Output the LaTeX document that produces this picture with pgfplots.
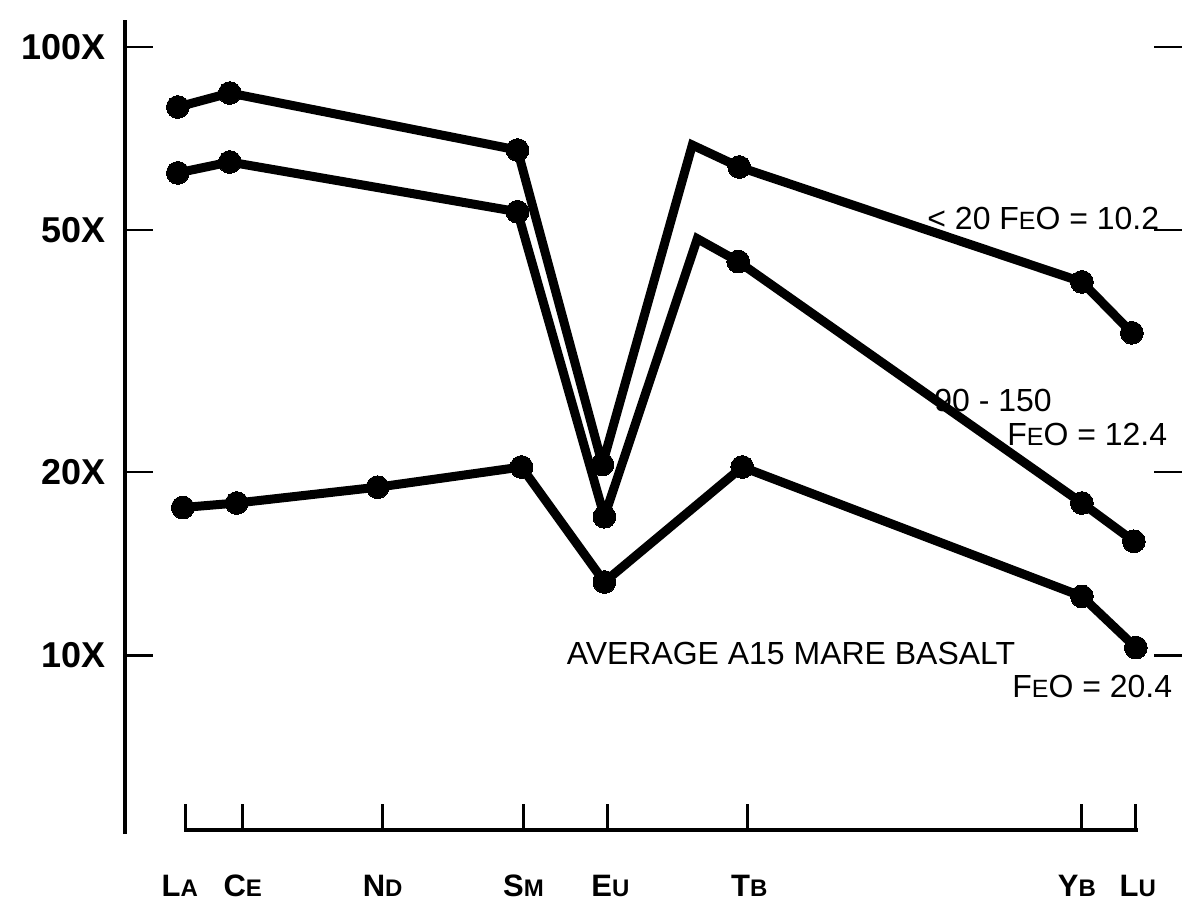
\documentclass[border=0pt]{standalone}
\usepackage{fontspec}
\setmainfont{Liberation Sans}
\usepackage{pgfplots}
\usepackage{pgfplotstable}
\pgfplotsset{compat=1.18}

% x = position along the REE axis (drawing units), y = chondrite-normalised abundance
\pgfplotstableread{
x y
178 79.7
230 84.0
518 67.7
603 20.6
693 69.0
740 63.5
1083 41.1
1133 33.9
}\lowTi

\pgfplotstableread{
x y
178 62.1
230 64.7
518 53.6
605 16.9
698 48.4
739 44.4
1083 17.8
1135 15.4
}\midTi

\pgfplotstableread{
x y
183 17.5
237 17.8
378 18.9
522 20.4
605 13.2
743 20.4
1083 12.5
1137 10.3
}\avgbasalt

\newcommand{\sm}[1]{{\fontsize{12}{14}\selectfont #1}}
\newcommand{\sce}[1]{{\fontsize{12.5}{14}\selectfont #1}}

\begin{document}
\begin{tikzpicture}
\begin{axis}[
  scale only axis,
  width=529pt, height=407.5pt,
  xmin=125, xmax=1183,
  ymode=log, ymin=5.0823, ymax=110.74,
  axis line style={draw=none},
  clip=false,
  ytick={10,20,50,100},
  yticklabels={10X,20X,50X,100X},
  yticklabel style={font=\bfseries\fontsize{18}{21}\selectfont, xshift=-6pt},
  yminorticks=false, xminorticks=false,
  tick align=inside,
  major tick length=14pt,
  ytick style={black, line width=1.2pt},
  xtick={180,243,383,524,611,750,1078,1139},
  xticklabels={L\sm{A}, C\sm{E}, N\sm{D}, S\sm{M}, E\sm{U}, T\sm{B}, Y\sm{B}, L\sm{U}},
  xtick style={draw=none},
  xticklabel style={anchor=base, yshift=-31pt, font=\bfseries\fontsize{15.5}{18}\selectfont},
]
% bounding box = reference frame
\path (axis cs:0,3.9903) rectangle (axis cs:1183,119.46);

% left axis line
\draw[line width=1.8pt] (rel axis cs:0,0) -- (rel axis cs:0,1);

% element bracket
\draw[line width=2pt, line cap=rect] (axis cs:186,5.161) -- (axis cs:1137,5.161);
\pgfplotsinvokeforeach{186,243,383,524,608,748,1083,1137}{
  \draw[line width=1.5pt] (axis cs:#1,5.161) -- (axis cs:#1,5.693);
}

\addplot[black, line width=4.5pt, line join=miter, miter limit=2,
  mark=*, mark size=5.7pt, mark options={line width=0pt, fill=black},
  mark indices={1,2,3,4,6,7,8}] table {\lowTi};
\addplot[black, line width=4.5pt, line join=miter, miter limit=2,
  mark=*, mark size=5.7pt, mark options={line width=0pt, fill=black},
  mark indices={1,2,3,4,6,7,8}] table {\midTi};
\addplot[black, line width=4.5pt, line join=miter, miter limit=2,
  mark=*, mark size=5.7pt, mark options={line width=0pt, fill=black}] table {\avgbasalt};

\node[anchor=base west, inner sep=0pt, font=\fontsize{16}{19}\selectfont] at (axis cs:928,50.06) {< 20 F\sce{E}O = 10.2};
\node[anchor=base west, inner sep=0pt, font=\fontsize{16}{19}\selectfont] at (axis cs:935,25.16) {90 - 150};
\node[anchor=base west, inner sep=0pt, font=\fontsize{16}{19}\selectfont] at (axis cs:1008,22.12) {F\sce{E}O = 12.4};
\node[anchor=base west, inner sep=0pt, font=\fontsize{16}{19}\selectfont] at (axis cs:567,9.665) {AVERAGE A15 MARE BASALT};
\node[anchor=base west, inner sep=0pt, font=\fontsize{16}{19}\selectfont] at (axis cs:1013,8.533) {F\sce{E}O = 20.4};
\end{axis}
\end{tikzpicture}
\end{document}
